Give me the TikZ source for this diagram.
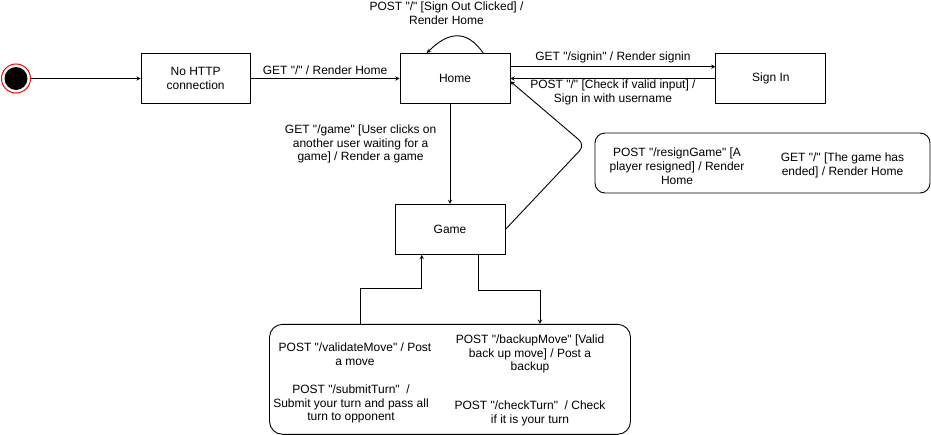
\documentclass[tikz,border=0pt]{standalone}
\usepackage{fontspec}
\newfontfamily\drawiofont{Liberation Sans}
\usetikzlibrary{calc,positioning}

\begin{document}
\begin{tikzpicture}[auto, x=1pt, y=-1pt, >=stealth, line width=0.9pt,
    font=\drawiofont\fontsize{12}{13.8}\selectfont,
    stateBox/.style={draw, minimum width=110pt, minimum height=50pt, align=center},
    groupBox/.style={draw, rounded corners=13pt, inner sep=0pt},
    note/.style={align=center}]
    \useasboundingbox (0,0) rectangle (931,434);
    % States
    \node [stateBox] (Home) at (455,78.5) {Home};
    \node [stateBox,
        minimum width=109pt,
        left=149pt of Home
    ] (NoHttp) {No HTTP\\connection};
    \node [stateBox,
        right=205pt of Home
    ] (SignIn) {Sign In};
    \node [stateBox,
        below=100pt of Home,
        xshift=-5pt
    ] (Game) {Game};
    \node [circle,
        draw=red,
        fill=white,
        line width=1pt,
        minimum size=29pt,
        inner sep=0pt
    ] (Start) at (16,78.5) {};
    \fill (Start.center) circle (11.5pt);
    % Grouped transitions
    \node [groupBox,
        minimum width=361pt,
        minimum height=110pt,
        below=69pt of Game
    ] (Actions) {};
    \node [groupBox,
        rounded corners=10pt,
        minimum width=335pt,
        minimum height=60pt
    ] (Exits) at (762.5,163) {};
    \node [note] (ValidateMove) at (355,354) {POST "/validateMove" / Post\\a move};
    \node [note] (SubmitTurn) at (351,404) {POST "/submitTurn" \ /\\Submit your turn and pass all\\turn to opponent};
    \node [note] (BackupMove) at (530,354) {POST "/backupMove" [Valid\\back up move] / Post a\\backup};
    \node [note] (CheckTurn) at (530,413.5) {POST "/checkTurn" \ / Check\\if it is your turn};
    \node [note] (ResignGame) at (677,166) {POST "/resignGame" [A\\player resigned] / Render\\Home};
    \node [note] (GameEnded) at (842.5,165) {GET "/" [The game has\\ended] / Render Home};
    % Arrows with text label
    \draw[->] (Start) -- (NoHttp);
    \draw[->] (NoHttp) -- (Home)
    node[midway,above]{GET "/" / Render Home};
    \draw[->] (Home.12) -- (SignIn.168)
    node[midway,above]{GET "/signin" / Render signin};
    \draw[->] (SignIn) -- (Home)
    node[midway,below,inner sep=1pt,align=center]{POST "/" [Check if valid input] /\\Sign in with username};
    \draw[->] (Home.42) to[out=125,in=45,looseness=1.35]
    node[above=8pt,xshift=-10pt,align=center]{POST "/" [Sign Out Clicked] /\\Render Home} (Home.138);
    \draw[->] (Game.north |- Home.south) -- (Game)
    node[pos=0.4,left=10pt,align=center]{GET "/game" [User clicks on\\another user waiting for a\\game] / Render a game};
    \draw[->, rounded corners=8pt] (Game.east) -- (585,145) -- (Home.-3);
    \draw[->] (Game.-42) -- ++(0,36) -| ([xshift=90pt]Actions.north);
    \draw[->] ([xshift=-90pt]Actions.north) -- ++(0,-35) -| (Game.-138);

\end{tikzpicture}
\end{document}
